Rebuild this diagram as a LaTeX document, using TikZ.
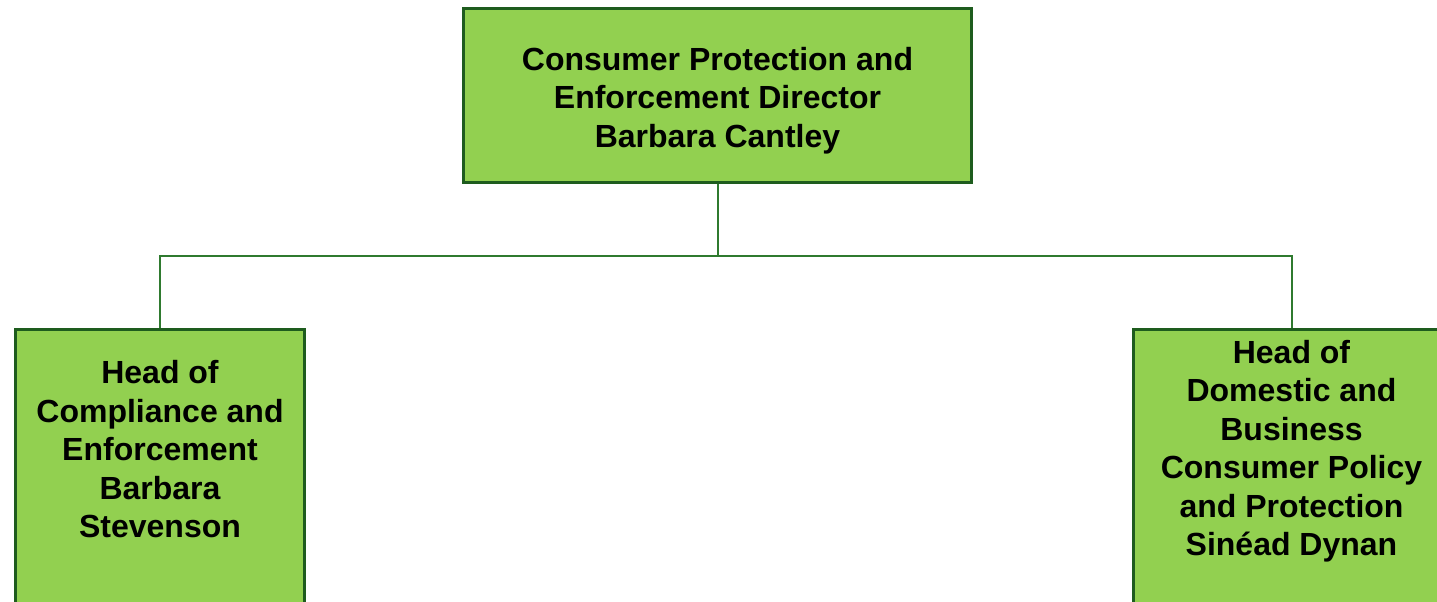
\documentclass[tikz,border=0pt]{standalone}
\usepackage{fontspec}
\setmainfont{Liberation Sans}
\usetikzlibrary{positioning}
\definecolor{boxgreen}{HTML}{92D050}
\definecolor{boxedge}{HTML}{1E5C1E}
\definecolor{linkgreen}{HTML}{2F7A2F}
\tikzset{
  post/.style={draw=boxedge, line width=1.5pt, fill=boxgreen, inner sep=0pt},
  posttext/.style={font=\fontsize{16}{19.25}\selectfont\bfseries, align=center, inner sep=0pt},
  link/.style={draw=linkgreen, line width=1pt},
}
\begin{document}
\begin{tikzpicture}[x=0.5pt, y=-0.5pt]
  \useasboundingbox (0,0) rectangle (1437,601);
  \clip (0,0) rectangle (1437,601);
  % boxes, the two heads cut off at the bottom
  \node[post, minimum width=254pt, minimum height=87pt, anchor=north west] (director) at (462,7) {};
  \node[post, minimum width=144.5pt, minimum height=150pt, anchor=north west] (compliance) at (14,328) {};
  \node[post, minimum width=158pt, minimum height=150pt, anchor=north west] (domestic) at (1132,328) {};
  % texts
  \node[posttext, below=19.75pt of director.north] (directortext)
    {Consumer Protection and\\Enforcement Director\\Barbara Cantley};
  \node[posttext, below=16pt of compliance.north] (compliancetext)
    {Head of\\Compliance and\\Enforcement\\Barbara\\Stevenson};
  \node[posttext, below=5.75pt of domestic.north] (domestictext)
    {Head of\\Domestic and\\Business\\Consumer Policy\\and Protection\\Sinéad Dynan};
  % connectors
  \coordinate (split) at (director.south |- 0,256);
  \draw[link] (director.south) -- (split);
  \draw[link] (compliance.north) |- (split) -| (domestic.north);
\end{tikzpicture}
\end{document}
